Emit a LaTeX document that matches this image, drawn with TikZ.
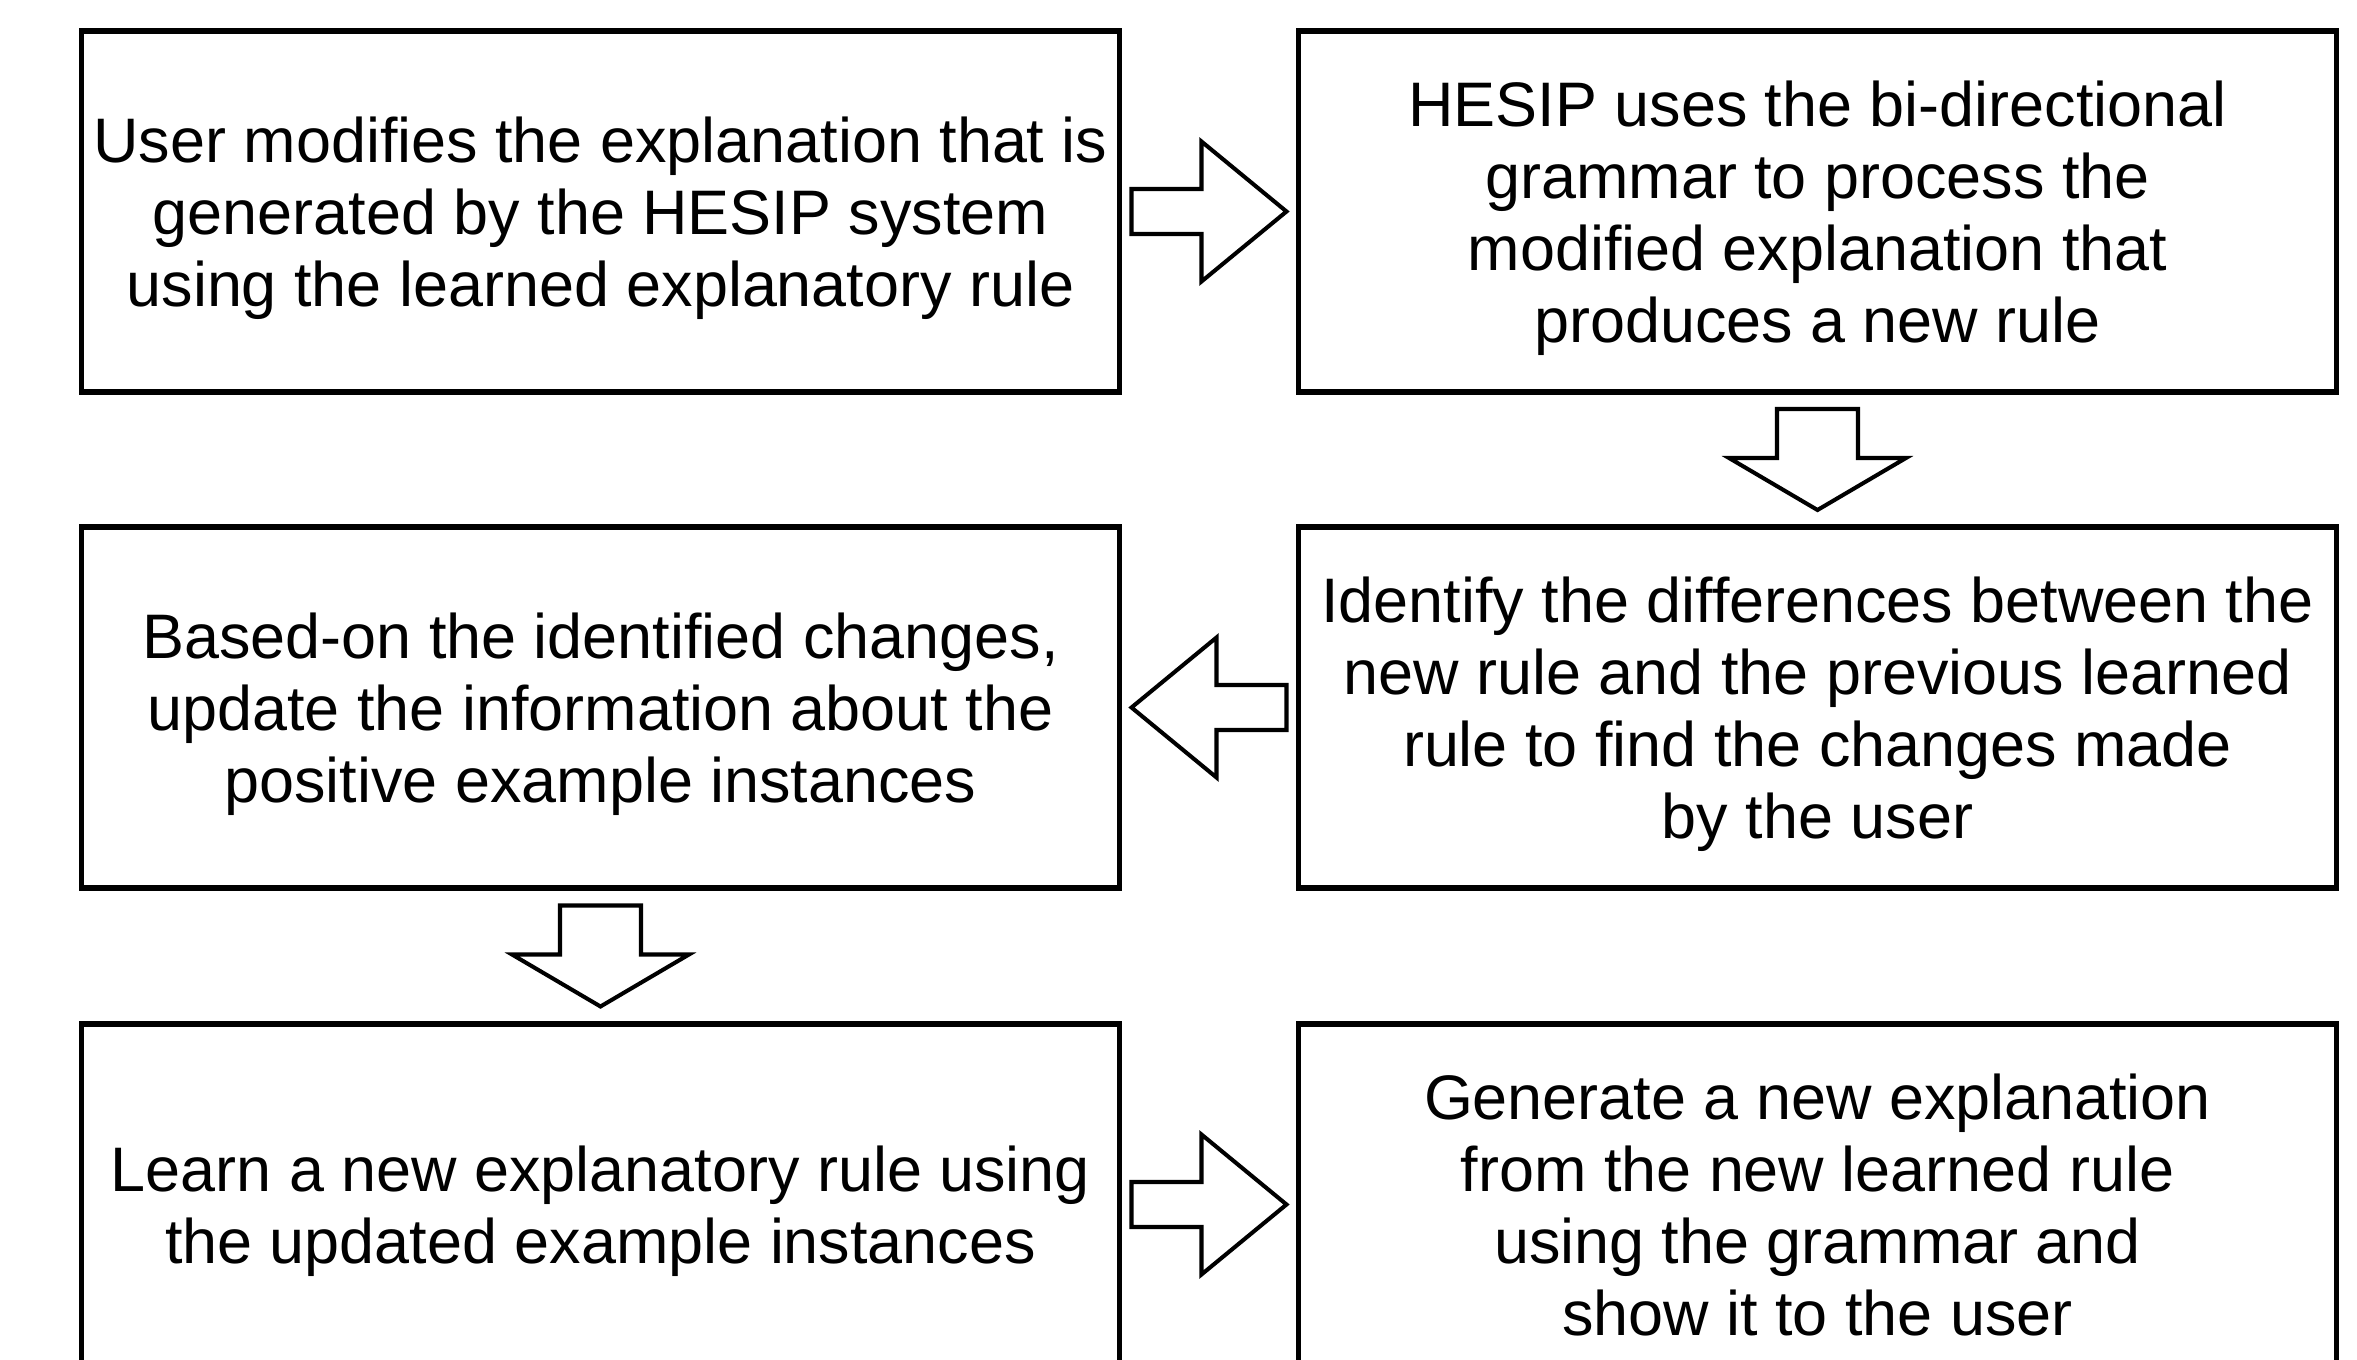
\documentclass[tikz,border=0pt]{standalone}
\usepackage{fontspec}
\setmainfont{Liberation Sans}
\usetikzlibrary{positioning,calc}

\tikzset{
    stepbox/.style={draw,line width=1.45pt,outer sep=0pt,inner sep=2pt,
        minimum width=10.38cm,minimum height=3.61cm,align=center,
        font=\fontsize{17.9}{20.5}\selectfont,text depth=-1.3pt},
    blockarrow/.style={draw,line width=1.15pt,fill=white,line join=miter}
}

\begin{document}
\begin{tikzpicture}
        \useasboundingbox (0,0) rectangle (23.57,-13.60);
        \clip (0,0) rectangle (23.57,-13.60);
        \node[stepbox] (s1) at (6.005,-2.115)
            {User modifies the explanation that is\\generated by the HESIP system\\using the learned explanatory rule};
        \node[stepbox,right=1.79cm of s1] (s2)
            {HESIP uses the bi-directional\\grammar to process the\\modified explanation that\\produces a new rule};
        \node[stepbox,below=1.35cm of s2] (s3)
            {Identify the differences between the\\new rule and the previous learned\\rule to find the changes made\\by the user};
        \node[stepbox,left=1.79cm of s3] (s4)
            {Based-on the identified changes,\\update the information about the\\positive example instances};
        \node[stepbox,below=1.36cm of s4] (s5)
            {Learn a new explanatory rule using\\the updated example instances};
        \node[stepbox,right=1.79cm of s5] (s6)
            {Generate a new explanation\\from the new learned rule\\using the grammar and\\show it to the user};
        % sideways arrows between the columns
        \foreach \a/\b/\r in {s1/s2/0,s3/s4/180,s5/s6/0}{
            \draw[blockarrow,shift={($(\a)!0.5!(\b)$)},rotate=\r]
                (-0.775,0.225) -- (-0.075,0.225) -- (-0.075,0.70) -- (0.775,0)
                -- (-0.075,-0.70) -- (-0.075,-0.225) -- (-0.775,-0.225) -- cycle;
        }
        % downward arrows between the rows
        \foreach \a/\b in {s2/s3,s4/s5}{
            \draw[blockarrow,shift={($(\a)!0.5!(\b)$)}]
                (-0.405,0.505) -- (0.405,0.505) -- (0.405,0.015) -- (0.885,0.015)
                -- (0,-0.505) -- (-0.885,0.015) -- (-0.405,0.015) -- cycle;
        }
\end{tikzpicture}
\end{document}
